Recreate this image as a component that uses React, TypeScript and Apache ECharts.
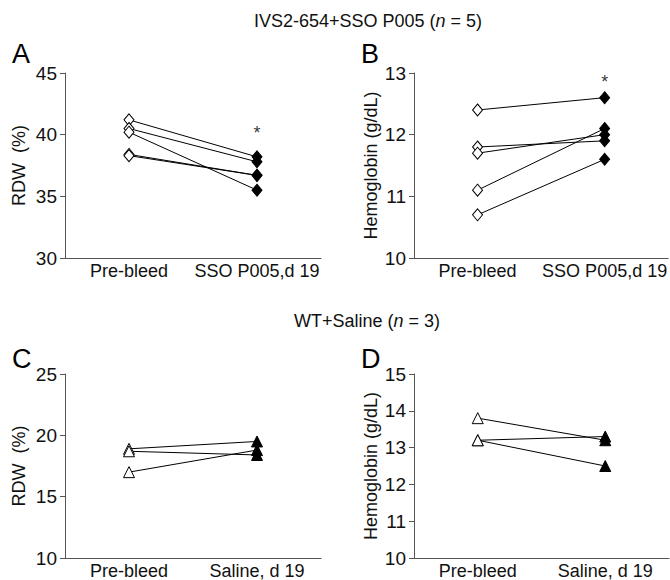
import React, { useEffect, useRef } from "react";
import * as echarts from "echarts";

const catsTop = ["Pre-bleed", "SSO P005,d 19"];
const catsBottom = ["Pre-bleed", "Saline, d 19"];

// Panel A: RDW (%) IVS2-654+SSO P005
const rdwSsoPre = [41.2, 40.5, 40.2, 38.4, 38.3];
const rdwSsoPost = [38.2, 37.8, 35.5, 36.7, 36.7];
// Panel B: Hemoglobin (g/dL) IVS2-654+SSO P005
const hbSsoPre = [12.4, 11.8, 11.7, 11.1, 10.7];
const hbSsoPost = [12.6, 11.9, 12.0, 12.1, 11.6];
// Panel C: RDW (%) WT+Saline
const rdwSalPre = [18.9, 18.7, 17.0];
const rdwSalPost = [19.5, 18.4, 18.8];
// Panel D: Hemoglobin (g/dL) WT+Saline
const hbSalPre = [13.8, 13.2, 13.2];
const hbSalPost = [13.2, 13.3, 12.5];

const yTicksA = { min: 30, max: 45, interval: 5 };
const yTicksB = { min: 10, max: 13, interval: 1 };
const yTicksC = { min: 10, max: 25, interval: 5 };
const yTicksD = { min: 10, max: 15, interval: 1 };

const starA = 40.1;
const starB = 12.85;

const FONT = "Liberation Sans, Arial, Helvetica, sans-serif";

export default function App() {
  const ref = useRef<HTMLDivElement>(null);
  useEffect(() => {
    if (!ref.current) return;
    const chart = echarts.init(ref.current, null, { renderer: "svg" });

    const grids = [
      { left: 65, top: 73, width: 256, height: 185 },
      { left: 414, top: 73, width: 255, height: 185 },
      { left: 65, top: 374, width: 256, height: 185 },
      { left: 414, top: 374, width: 255, height: 185 },
    ];

    const xAxes = [catsTop, catsTop, catsBottom, catsBottom].map((c, i) => ({
      type: "category",
      gridIndex: i,
      data: c,
      boundaryGap: true,
      axisLine: { lineStyle: { color: "#555", width: 1 } },
      axisTick: { show: false },
      axisLabel: {
        color: "#111",
        fontSize: 18,
        fontFamily: FONT,
        margin: 4,
        interval: 0,
        hideOverlap: false,
      },
      splitLine: { show: false },
    }));

    const yDefs = [
      { t: yTicksA, name: "RDW  (%)", gap: 37 },
      { t: yTicksB, name: "Hemoglobin (g/dL)", gap: 34 },
      { t: yTicksC, name: "RDW  (%)", gap: 37 },
      { t: yTicksD, name: "Hemoglobin (g/dL)", gap: 34 },
    ];
    const yAxes = yDefs.map((d, i) => ({
      type: "value",
      gridIndex: i,
      min: d.t.min,
      max: d.t.max,
      interval: d.t.interval,
      name: d.name,
      nameLocation: "middle",
      nameGap: d.gap,
      nameTextStyle: { color: "#111", fontSize: 18, fontFamily: FONT },
      axisLine: { show: true, lineStyle: { color: "#555", width: 1 } },
      axisTick: { show: true, length: 5, lineStyle: { color: "#555" } },
      axisLabel: { color: "#111", fontSize: 19, fontFamily: FONT, margin: 8 },
      splitLine: { show: false },
    }));

    const series: any[] = [];
    const addPairs = (
      pre: number[],
      post: number[],
      idx: number,
      symbol: string,
      size: number[]
    ) => {
      pre.forEach((v, k) => {
        series.push({
          type: "line",
          xAxisIndex: idx,
          yAxisIndex: idx,
          symbol,
          symbolSize: size,
          showSymbol: true,
          lineStyle: { color: "#000", width: 1 },
          data: [
            {
              value: v,
              itemStyle: { color: "#fff", borderColor: "#000", borderWidth: 1 },
            },
            {
              value: post[k],
              itemStyle: { color: "#000", borderColor: "#000", borderWidth: 1 },
            },
          ],
          z: 3,
        });
      });
    };
    addPairs(rdwSsoPre, rdwSsoPost, 0, "diamond", [10, 12]);
    addPairs(hbSsoPre, hbSsoPost, 1, "diamond", [10, 12]);
    addPairs(rdwSalPre, rdwSalPost, 2, "triangle", [11, 11]);
    addPairs(hbSalPre, hbSalPost, 3, "triangle", [11, 11]);

    const star = (idx: number, cat: string, v: number) => ({
      type: "scatter",
      xAxisIndex: idx,
      yAxisIndex: idx,
      symbolSize: 0,
      data: [[cat, v]],
      label: {
        show: true,
        position: "inside",
        formatter: "*",
        color: "#000",
        fontSize: 18,
        fontFamily: FONT,
      },
    });
    series.push(star(0, catsTop[1], starA));
    series.push(star(1, catsTop[1], starB));

    const letter = (t: string, x: number, y: number) => ({
      type: "text",
      x,
      y,
      style: {
        text: t,
        fill: "#000",
        fontSize: 27,
        fontFamily: FONT,
        textAlign: "left",
        textVerticalAlign: "middle",
      },
    });

    const heading = (a: string, b: string, x: number, y: number) => ({
      type: "text",
      x,
      y,
      style: {
        text: `{a|${a}}{i|n}{a|${b}}`,
        textAlign: "center",
        textVerticalAlign: "middle",
        rich: {
          a: { fontSize: 18, fontFamily: FONT, fill: "#111", color: "#111" },
          i: {
            fontSize: 18,
            fontFamily: FONT,
            fontStyle: "italic",
            fill: "#111",
            color: "#111",
          },
        },
      },
    });

    chart.setOption({
      animation: false,
      backgroundColor: "#fff",
      grid: grids,
      xAxis: xAxes,
      yAxis: yAxes,
      series,
      graphic: [
        heading("IVS2-654+SSO P005 (", " = 5)", 368, 21),
        heading("WT+Saline (", " = 3)", 367, 321),
        letter("A", 12, 54),
        letter("B", 361, 54),
        letter("C", 12, 359),
        letter("D", 361, 359),
      ],
    });
    return () => chart.dispose();
  }, []);
  return (
    <div
      ref={ref}
      style={{ width: 670, height: 580, position: "fixed", left: 0, top: 0 }}
    />
  );
}
